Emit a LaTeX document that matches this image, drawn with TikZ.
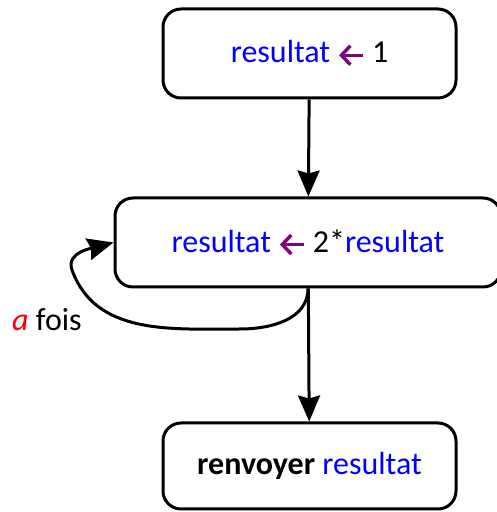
\documentclass[tikz,border=0pt]{standalone}
\usepackage{fontspec}
\setmainfont{Carlito}
\usetikzlibrary{arrows.meta}
\definecolor{varblue}{RGB}{0,0,255}
\definecolor{affpurple}{RGB}{128,0,128}
\newcommand{\var}[1]{\textcolor{varblue}{#1}}
\newcommand{\affecte}{\tikz[baseline={(0,-7.5pt)}, x=1pt, y=1pt]
  \draw[affpurple, line width=3.4pt, {Straight Barb[length=9pt,width=19pt,line width=3.4pt]}-] (0,0) -- (24,0);}
\tikzset{
  etape/.style = {draw, line width=3pt, rounded corners=18pt, align=center,
    font=\fontsize{32}{38}\selectfont},
  fleche/.style = {line width=3pt, -{Stealth[length=26pt,width=22pt,inset=3pt]}}
}
\begin{document}
\begin{tikzpicture}[x=1pt,y=1pt]
            \useasboundingbox (0,0) rectangle (496,512);

            \node[etape, minimum width=293pt, minimum height=89pt] (init) at (309.5,458.5) {\var{resultat} \affecte{} 1};
            \node[etape, minimum width=386pt, minimum height=89pt] (double) at (308,269.5) {\var{resultat} \affecte{} 2*\var{resultat}};
            \node[etape, minimum width=293pt, minimum height=86pt] (renvoi) at (309.5,46) {\textbf{renvoyer} \var{resultat}};

            \coordinate (bas) at (240,183);
            \coordinate (gauche) at (72,242);

            \draw[fleche] (init) -- (double);
            \draw[fleche] (double) -- (renvoi);
            \draw[fleche] (double.south) to[out=-90,in=0] (bas) to[out=180,in=-70] (gauche) to[out=110,in=195] (double.west);

            \node[font=\fontsize{32}{38}\selectfont] (nbfois) at (47,192) {\textcolor{red}{\textit{a}} fois};
        \end{tikzpicture}
\end{document}
